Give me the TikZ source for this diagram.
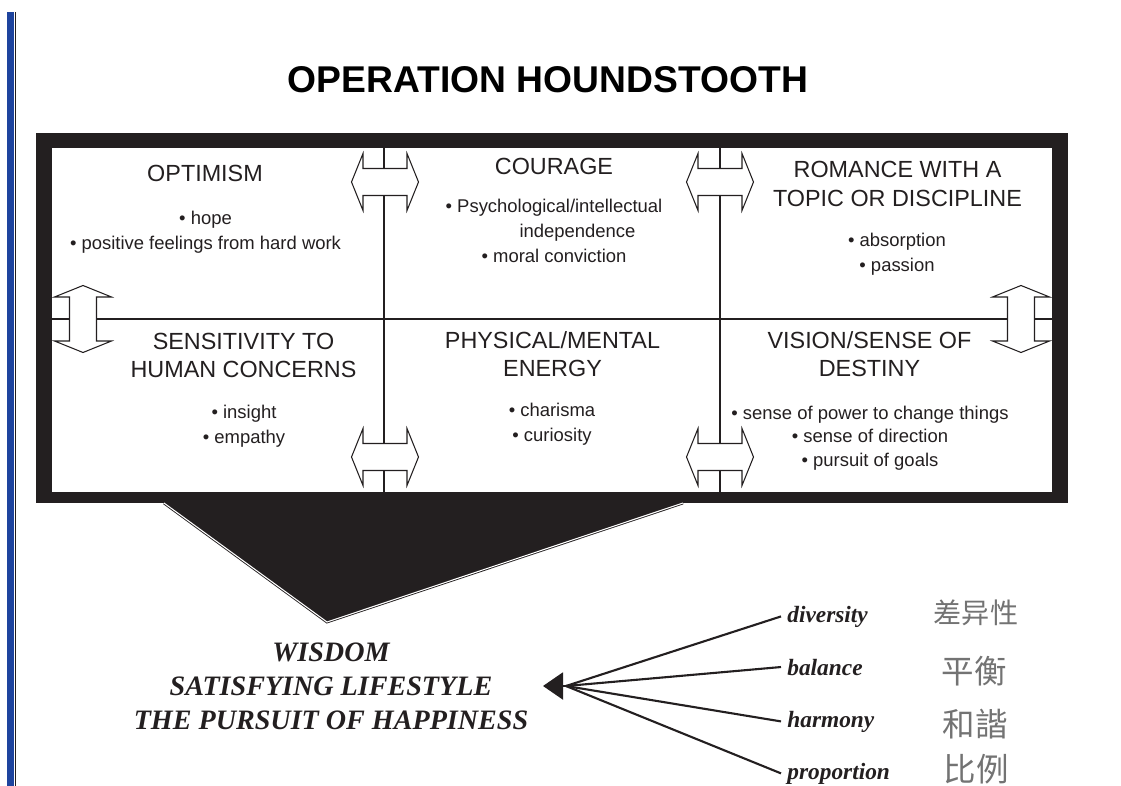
\documentclass[tikz,border=0pt]{standalone}
\usepackage{fontspec}
\setmainfont{Liberation Serif}
\setsansfont{Liberation Sans}
\newfontfamily\cjkfont{Noto Sans CJK SC}
\usepackage{tikz}
\usetikzlibrary{arrows.meta}
\usetikzlibrary{positioning}

\definecolor{ink}{RGB}{35,31,32}
\definecolor{barblue}{RGB}{30,68,158}

% double-headed block arrow, drawn at the crossings of the grid
\tikzset{
  pics/dblarrow/.style={code={
    \draw[fill=white,line width=0.6pt,draw=ink] (-22,-13.5) -- (-22,-28.5) -- (-33.5,0) -- (-22,28.5) -- (-22,13.5)
      -- (22,13.5) -- (22,28.5) -- (33.5,0) -- (22,-28.5) -- (22,-13.5) -- cycle;
  }}
}

\begin{document}
\begin{tikzpicture}[x=0.02cm,y=-0.02cm,
  head/.style={font=\sffamily\fontsize{13.3}{16.1}\selectfont,align=center,text=ink,inner sep=0pt},
  bullets/.style={font=\sffamily\fontsize{10.5}{14.2}\selectfont,align=center,text=ink,inner sep=0pt},
  motto/.style={font=\bfseries\itshape\fontsize{16}{19.3}\selectfont,align=center,text=ink},
  quality/.style={font=\bfseries\itshape\fontsize{13.3}{16}\selectfont,anchor=base west,inner sep=0.12cm,text=ink},
  hanzi/.style={font=\cjkfont\fontsize{18.5}{20}\selectfont,text=black!55},
  grid/.style={line width=0.8pt,draw=ink},
  spoke/.style={line width=1.2pt,draw=ink}]

\useasboundingbox (0,0) rectangle (1121,786);

% Side bar
\fill[barblue] (7,12) rectangle (14,786);
\draw[ink,line width=0.6pt] (15.3,12) -- (15.3,786);

% Title
\node[font=\sffamily\bfseries\fontsize{21.2}{24}\selectfont,text=black] (title) at (548,80) {OPERATION HOUNDSTOOTH};

% Frame and funnel
\fill[ink] (36,133) rectangle (1068,503);
\fill[white] (52,148) rectangle (1052,492);
\fill[ink] (164,503) -- (327,622) -- (683,503) -- cycle;
\draw[ink,line width=0.5pt,double=white,double distance=0.6pt] (164,503) -- (327,622) -- (683,503);

% Grid
\draw[grid] (384,148) -- (384,492);
\draw[grid] (720,148) -- (720,492);
\draw[grid] (52,319) -- (1052,319);

% Arrows on the grid
\pic at (385,182) {dblarrow};
\pic at (720,182) {dblarrow};
\pic at (385,457) {dblarrow};
\pic at (720,457) {dblarrow};
\pic[rotate=90] at (83,319) {dblarrow};
\pic[rotate=90] at (1021,319) {dblarrow};

% Top row
\node[head] (optimism) at (205,173.5) {OPTIMISM};
\node[bullets] (optlist) at (205.5,232.5) {• hope\\• positive feelings from hard work};
\node[head] (courage) at (554,166) {COURAGE};
\node[bullets] (courlist) at (554,231) {• Psychological/intellectual\\\hspace*{0.94cm}independence\\• moral conviction};
\node[head] (romance) at (897.5,184) {ROMANCE WITH A\\TOPIC OR DISCIPLINE};
\node[bullets] (romlist) at (897,254) {• absorption\\• passion};

% Bottom row
\node[head] (sensitivity) at (243.5,355.5) {SENSITIVITY TO\\HUMAN CONCERNS};
\node[bullets] (senslist) at (244,426.5) {• insight\\• empathy};
\node[head] (energy) at (552.5,354) {PHYSICAL/MENTAL\\ENERGY};
\node[bullets] (enlist) at (552,424.5) {• charisma\\• curiosity};
\node[head] (vision) at (869.5,354) {VISION/SENSE OF\\DESTINY};
\node[bullets,font=\sffamily\fontsize{10.5}{13.4}\selectfont] (vislist) at (870,438) {• sense of power to change things\\• sense of direction\\• pursuit of goals};

% Outcome
\node[motto] (goal) at (331,686) {WISDOM\\SATISFYING LIFESTYLE\\THE PURSUIT OF HAPPINESS};
\coordinate (tip) at (543,686);
\coordinate (hub) at (566,686);

% Qualities
\node[quality] (diversity) at (781,622) {diversity};
\node[quality] (balance) at (781,675) {balance};
\node[quality] (harmony) at (781,727) {harmony};
\node[quality] (proportion) at (781,779) {proportion};

\node[hanzi,font=\cjkfont\fontsize{16}{18}\selectfont] (chaYi) at (976,613) {差异性};
\node[hanzi] (pingHeng) at (974,671) {平衡};
\node[hanzi] (heXie) at (975,724) {和諧};
\node[hanzi] (biLi) at (976,769) {比例};

% Spokes into the arrow
\path[spoke] (diversity.west) edge (hub);
\path[spoke] (balance.west) edge (hub);
\path[spoke] (harmony.west) edge (hub);
\path[spoke] (proportion.west) edge (hub);
\draw[spoke,-{Triangle[length=0.4cm,width=0.54cm]}] (hub) -- (tip);

\end{tikzpicture}
\end{document}
